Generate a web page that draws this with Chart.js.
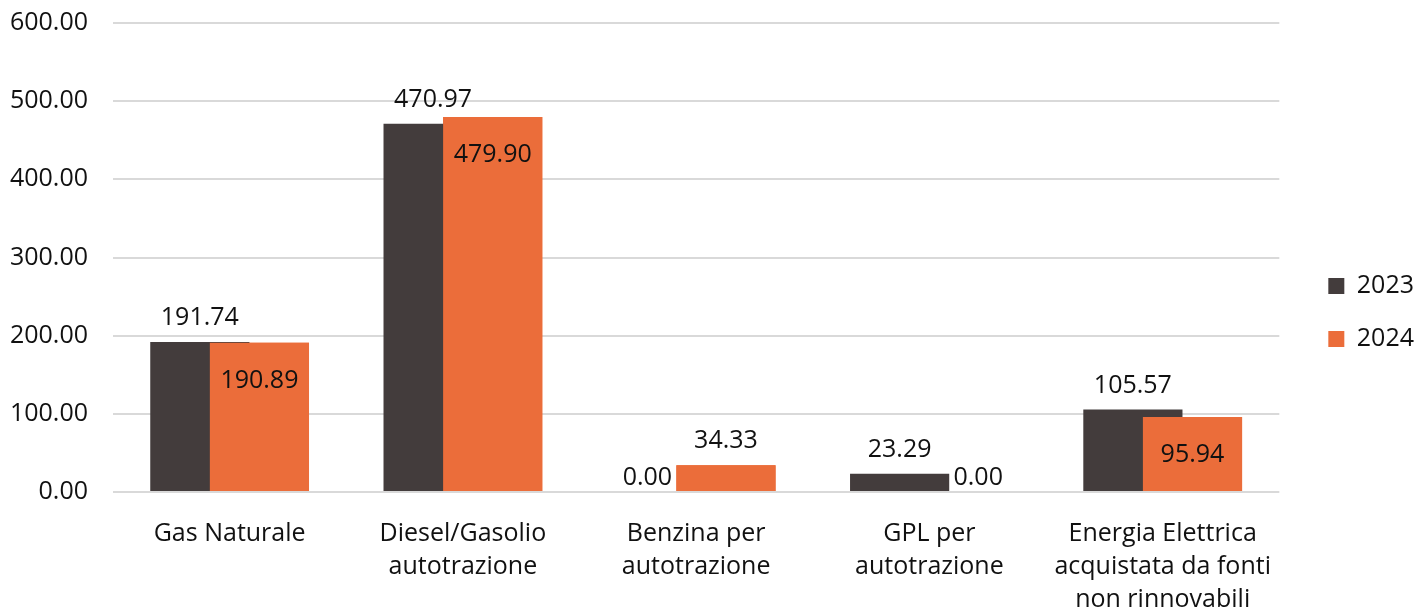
<!DOCTYPE html>
<html>
<head>
<meta charset="utf-8">
<script src="https://cdn.jsdelivr.net/npm/chart.js@4"></script>
<style>
  html, body { margin: 0; padding: 0; background: #fff; }
  #wrap { width: 1427px; height: 610px; }
</style>
</head>
<body>
<div id="wrap"><canvas id="chart-consumi"></canvas></div>
<script>
  /* ================== DATI ================== */

  const categorie = [
    'Gas Naturale',
    ['Diesel/Gasolio', 'autotrazione'],
    ['Benzina per', 'autotrazione'],
    ['GPL per', 'autotrazione'],
    ['Energia Elettrica', 'acquistata da fonti', 'non rinnovabili']
  ];
  const anni = ['2023', '2024'];
  const valori2023 = [191.74, 470.97, 0.00, 23.29, 105.57];
  const valori2024 = [190.89, 479.90, 34.33, 0.00, 95.94];
  const tickY = [0, 100, 200, 300, 400, 500, 600];

  const colori = ['#433c3c', '#eb6d3a'];
  const font = '"Open Sans", sans-serif';

  /* ================== PLUGIN ================== */

  // il 2024 va disegnato sopra al 2023 (barre sovrapposte) + etichette valori
  const etichetteValori = {
    id: 'etichetteValori',
    afterDatasetsDraw(chart) {
      let ctx = chart.ctx;
      chart.getDatasetMeta(1).controller.draw();

      ctx.save();
      ctx.font = '25px ' + font;
      ctx.fillStyle = '#111';
      ctx.textAlign = 'center';
      ctx.textBaseline = 'middle';
      chart.data.datasets.forEach((ds, i) => {
        chart.getDatasetMeta(i).data.forEach((bar, j) => {
          let v = ds.data[j];
          let alto = bar.base - bar.y;
          let x = bar.x, y;
          if (v === 0) {
            x += i === 0 ? -19 : 19;
            y = bar.base - 14;
          } else if (i === 1 && alto > 60) {
            y = bar.y + 38;
          } else {
            y = bar.y - 24;
          }
          ctx.fillText(v.toFixed(2), x, y);
        });
      });
      ctx.restore();
    }
  };

  // legenda un po' piu' a destra
  const spostaLegenda = {
    id: 'spostaLegenda',
    afterLayout(chart) {
      chart.legend.left += 21;
      chart.legend.right += 21;
      chart.legend.top -= 4;
      chart.legend.bottom -= 4;
    }
  };

  /* ================== GRAFICO ================== */

  let canvas = document.getElementById('chart-consumi').getContext('2d');

  let chart = new Chart(canvas, {
    type: 'bar',
    data: {
      labels: categorie,
      datasets: [
        { label: anni[0], data: valori2023, backgroundColor: colori[0], borderWidth: 0 },
        { label: anni[1], data: valori2024, backgroundColor: colori[1], borderWidth: 0 }
      ]
    },
    options: {
      responsive: true,
      maintainAspectRatio: false,
      animation: false,
      categoryPercentage: 0.511,
      barPercentage: 1.664,
      layout: { padding: { top: 23, left: 0, right: 24, bottom: 0 } },
      plugins: {
        legend: {
          position: 'right',
          labels: {
            boxWidth: 16,
            boxHeight: 16,
            padding: 28,
            color: '#111',
            font: { family: font, size: 25 }
          }
        },
        tooltip: { enabled: false }
      },
      scales: {
        x: {
          grid: { display: false },
          border: { display: false },
          afterFit: (scale) => { scale.height = 118; },
          ticks: {
            color: '#111',
            padding: 17,
            maxRotation: 0,
            autoSkip: false,
            font: { family: font, size: 25, lineHeight: 1.32 }
          }
        },
        y: {
          min: tickY[0],
          max: tickY[tickY.length - 1],
          grid: { color: '#d9d9d9', lineWidth: 2, drawTicks: false },
          border: { display: false },
          afterFit: (scale) => {
            scale.width = 113;
            scale.paddingTop = 0;
            scale.paddingBottom = 0;
          },
          ticks: {
            stepSize: tickY[1] - tickY[0],
            padding: 25,
            color: '#111',
            font: { family: font, size: 25 },
            callback: (v) => Number(v).toFixed(2)
          }
        }
      }
    },
    plugins: [etichetteValori, spostaLegenda]
  });
</script>
</body>
</html>
